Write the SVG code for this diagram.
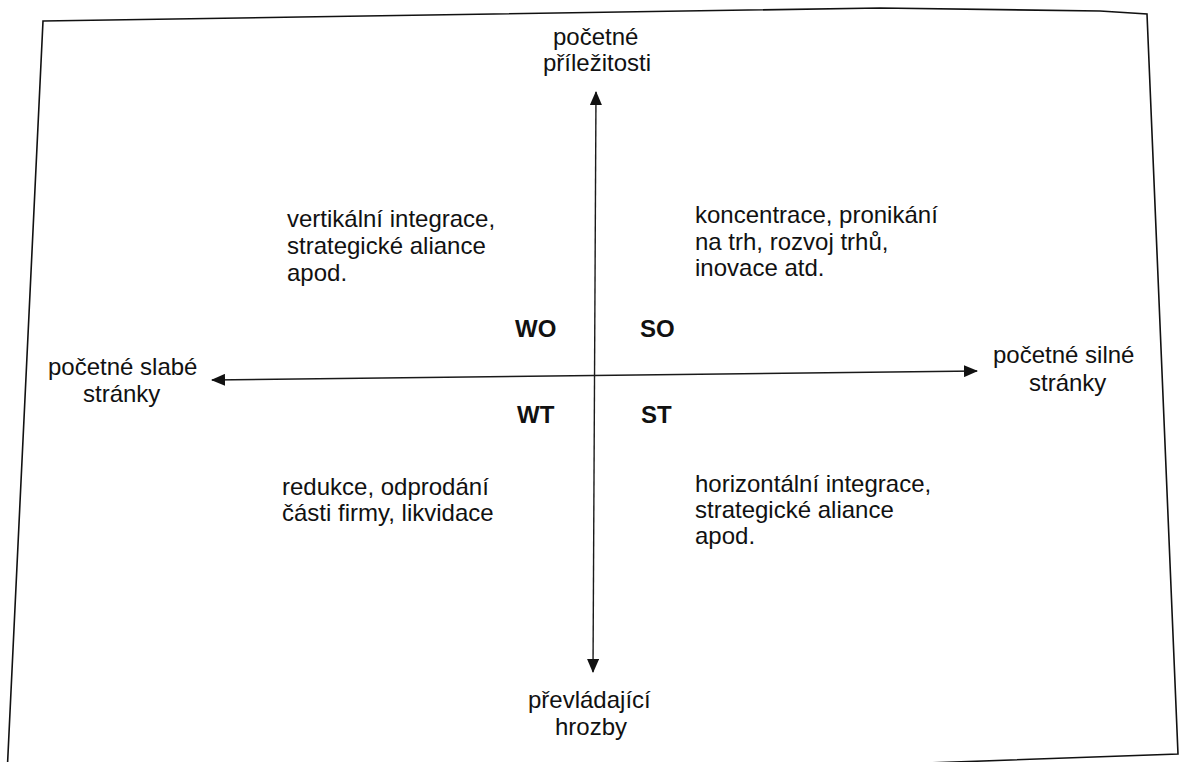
<svg xmlns="http://www.w3.org/2000/svg" width="1180" height="762" viewBox="0 0 1180 762">
  <defs>
    <style>
      .t { font-family: "Liberation Sans", Arial, sans-serif; font-size: 24px; fill: #111; }
      .b { font-family: "Liberation Sans", Arial, sans-serif; font-size: 24px; font-weight: bold; fill: #111; }
      .axis { stroke: #1a1a1a; stroke-width: 1.4; fill: none; }
      .frame { stroke: #111; stroke-width: 1.6; fill: none; }
    </style>
    <marker id="ah" viewBox="0 0 14 12" refX="13" refY="6" markerWidth="14" markerHeight="12" markerUnits="userSpaceOnUse" orient="auto-start-reverse">
      <path d="M0,0 L14,6 L0,12 Z" fill="#111"/>
    </marker>
  </defs>
  <rect width="1180" height="762" fill="#fff"/>
  <path class="frame" d="M43,21 L300,17 L880,8 L1100,11 L1147,14 L1178,754 L6,796 Z"/>
  <g id="connectors">
    <line class="axis" x1="596" y1="92" x2="593" y2="672" marker-start="url(#ah)" marker-end="url(#ah)"/>
    <line class="axis" x1="212" y1="380" x2="977" y2="371" marker-start="url(#ah)" marker-end="url(#ah)"/>
  </g>
  <g id="top-label">
    <text class="t" x="553" y="45">početné</text>
    <text class="t" x="543" y="71">příležitosti</text>
  </g>
  <g id="bottom-label">
    <text class="t" x="528" y="708">převládající</text>
    <text class="t" x="555" y="735">hrozby</text>
  </g>
  <g id="left-label">
    <text class="t" x="48" y="375">početné slabé</text>
    <text class="t" x="83" y="402">stránky</text>
  </g>
  <g id="right-label">
    <text class="t" x="993" y="363">početné silné</text>
    <text class="t" x="1029" y="391">stránky</text>
  </g>
  <g id="wo-text">
    <text class="t" x="287" y="227">vertikální integrace,</text>
    <text class="t" x="287" y="254">strategické aliance</text>
    <text class="t" x="287" y="281">apod.</text>
  </g>
  <g id="so-text">
    <text class="t" x="695" y="223">koncentrace, pronikání</text>
    <text class="t" x="695" y="250">na trh, rozvoj trhů,</text>
    <text class="t" x="695" y="276">inovace atd.</text>
  </g>
  <g id="wt-text">
    <text class="t" x="282" y="495">redukce, odprodání</text>
    <text class="t" x="282" y="521">části firmy, likvidace</text>
  </g>
  <g id="st-text">
    <text class="t" x="695" y="492">horizontální integrace,</text>
    <text class="t" x="695" y="518">strategické aliance</text>
    <text class="t" x="695" y="544">apod.</text>
  </g>
  <g id="quadrant-labels">
    <text class="b" x="515" y="337">WO</text>
    <text class="b" x="640" y="337">SO</text>
    <text class="b" x="517" y="423">WT</text>
    <text class="b" x="641" y="423">ST</text>
  </g>
</svg>
